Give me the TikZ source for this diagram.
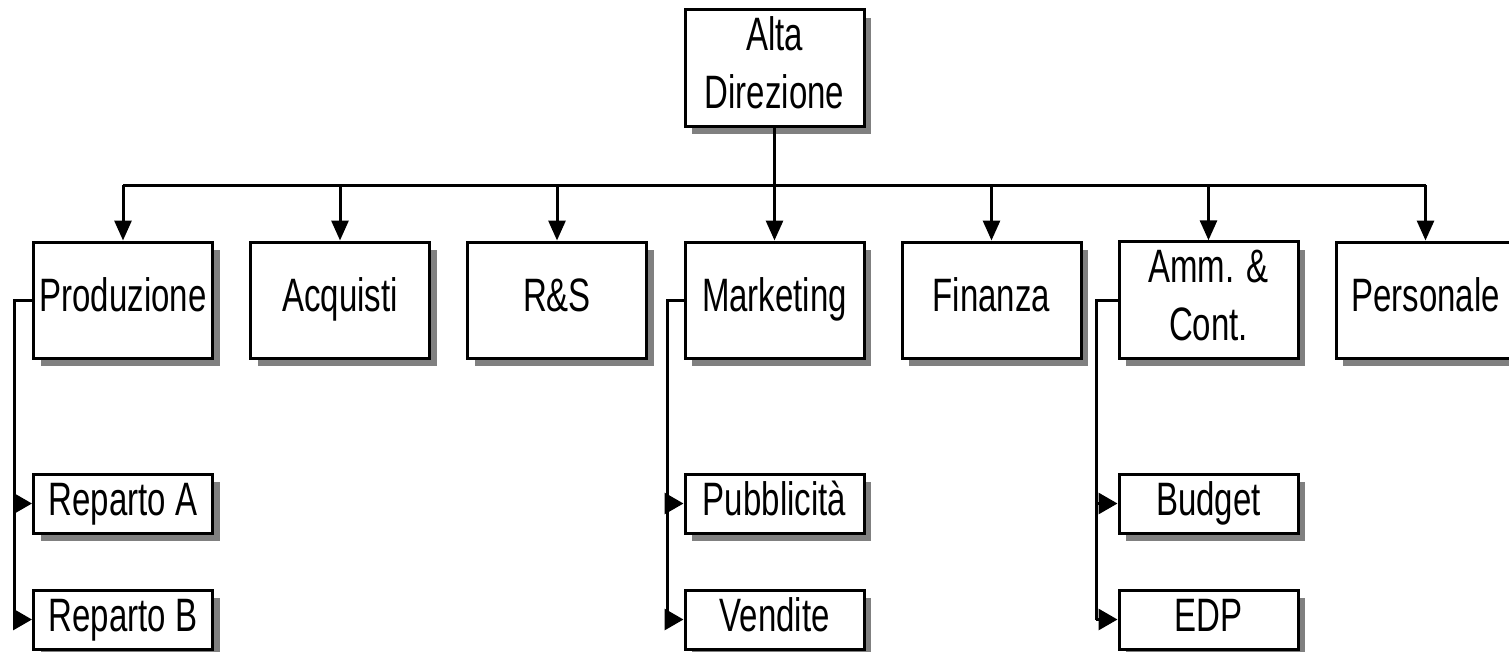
\documentclass[tikz,border=0pt]{standalone}
\usepackage{fontspec}
\setmainfont{Liberation Sans}
\usetikzlibrary{arrows.meta,shadows}
\newcommand{\lbl}[1]{\scalebox{1}[1.42]{\fontsize{33}{41}\selectfont\begin{tabular}{@{}c@{}}#1\end{tabular}}}
\begin{document}
\begin{tikzpicture}[x=1pt,y=-1pt,
  box/.style={draw=black,line width=3pt,fill=white,rectangle,inner sep=0pt,
    minimum width=179pt,minimum height=116pt,
    drop shadow={shadow xshift=7pt,shadow yshift=-8pt,fill=black!50,opacity=1}},
  subbox/.style={box,minimum height=59pt},
  conn/.style={line width=3pt},
  arr/.style={line width=3pt,-{Triangle[length=20pt,width=17pt]}},
  sarr/.style={line width=3pt,-{Triangle[length=19pt,width=21pt]}}]
\useasboundingbox (0,0) rectangle (1509,651);
\fill[white] (0,0) rectangle (1509,651);
\node[box] (alta) at (774.5,68) {\lbl{Alta\\Direzione}};
\node[box] (prod) at (123,300) {\lbl{Produzione}};
\node[box] (acq) at (340,300) {\lbl{Acquisti}};
\node[box] (rs) at (557,300) {\lbl{R\&S}};
\node[box] (mkt) at (774.5,300) {\lbl{Marketing}};
\node[box] (fin) at (991.5,300) {\lbl{Finanza}};
\node[box] (amm) at (1208.5,300) {\lbl{Amm. \&\\Cont.}};
\node[box] (pers) at (1425.5,300) {\lbl{Personale}};
\node[subbox] (repa) at (123,503.5) {\lbl{Reparto A}};
\node[subbox] (repb) at (123,619.5) {\lbl{Reparto B}};
\node[subbox] (pub) at (774.5,503.5) {\lbl{Pubblicità}};
\node[subbox] (ven) at (774.5,619.5) {\lbl{Vendite}};
\node[subbox] (bud) at (1208.5,503.5) {\lbl{Budget}};
\node[subbox] (edp) at (1208.5,619.5) {\lbl{EDP}};
\coordinate (bus) at (774.5,185);
\draw[conn] (alta.south) -- (alta.south |- bus);
\draw[conn] (prod.north |- bus) -- (pers.north |- bus);
\foreach \n in {prod,acq,rs,mkt,fin,amm,pers}
  \draw[arr] (\n.north |- bus) -- (\n.north);
\coordinate (pc) at (14,300);
\coordinate (mc) at (667,300);
\coordinate (ac) at (1096,300);
\draw[conn] (prod.west) -- (pc) -- (pc |- repb.west);
\draw[sarr] (pc |- repa.west) -- (repa.west);
\draw[sarr] (pc |- repb.west) -- (repb.west);
\draw[conn] (mkt.west) -- (mc) -- (mc |- ven.west);
\draw[sarr] (mc |- pub.west) -- (pub.west);
\draw[sarr] (mc |- ven.west) -- (ven.west);
\draw[conn] (amm.west) -- (ac) -- (ac |- edp.west);
\draw[sarr] (ac |- bud.west) -- (bud.west);
\draw[sarr] (ac |- edp.west) -- (edp.west);
\end{tikzpicture}
\end{document}
